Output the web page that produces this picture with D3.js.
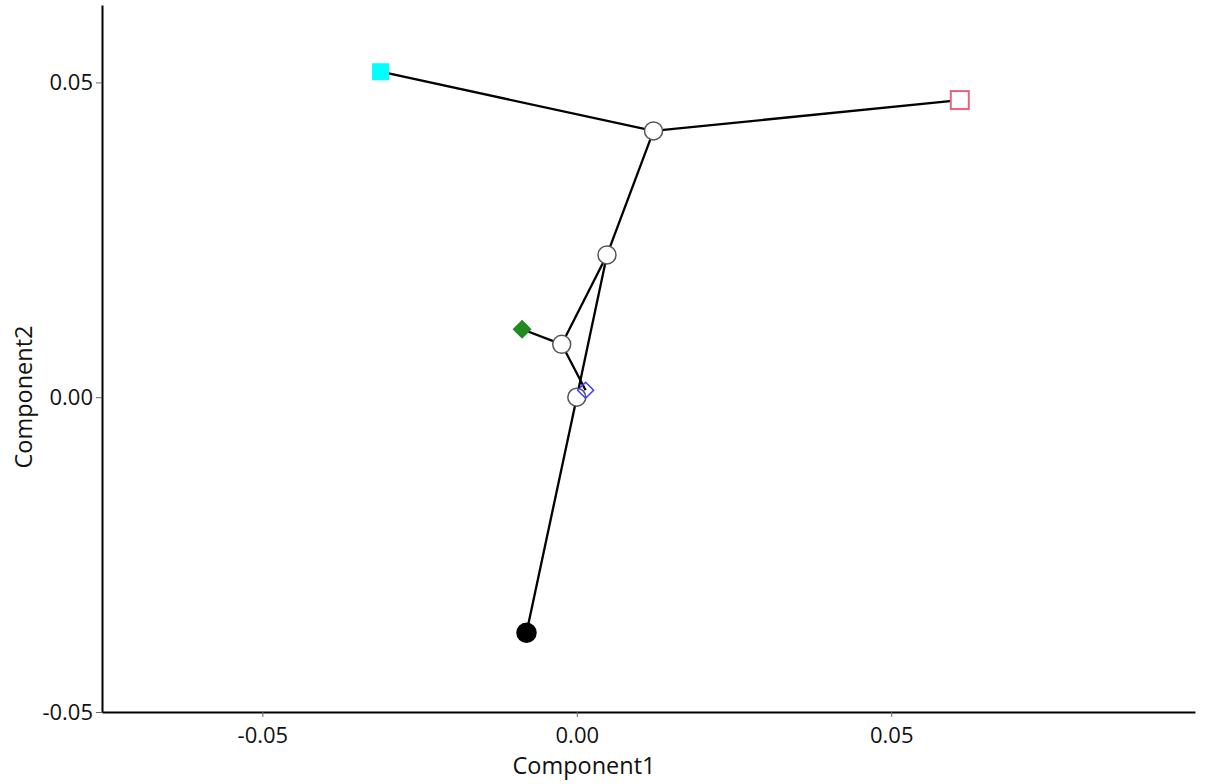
<!DOCTYPE html>
<html><head><meta charset="utf-8">
<script src="https://cdn.jsdelivr.net/npm/d3@7"></script>
<style>body{margin:0;background:#fff}svg{display:block}text{font-family:"Open Sans","Noto Sans",sans-serif}</style>
</head><body>
<script>
const xTicks = [-0.05, 0.00, 0.05];
const yTicks = [-0.05, 0.00, 0.05];
const nodeNames = ["cyan","pink","A","B","C","D","green","blue","black"];
const nodeX = [-0.0312, 0.0609, 0.0122, 0.0048, -0.0024, 0.0000, -0.0087, 0.0014, -0.0080];
const nodeY = [0.0517, 0.0472, 0.0423, 0.0226, 0.0084, 0.0000, 0.0108, 0.0011, -0.0374];
const edges = [["cyan","A"],["pink","A"],["A","B"],["B","C"],["B","D"],["C","green"],["C","blue"],["D","black"]];
const nodeShape = ["square","square","circle","circle","circle","circle","diamond","diamond","circle"];
const nodeFill = ["#00ffff","#ffffff","#ffffff","#ffffff","#ffffff","#ffffff","#228b22","none","#000000"];
const nodeStroke = ["#00ffff","#e8647e","#555555","#555555","#555555","#555555","#228b22","#3b3bff","#000000"];

const W=1206,H=784;
const svg=d3.select("body").append("svg").attr("width",W).attr("height",H);
const x=d3.scaleLinear().domain([-0.0755,0.0983]).range([102,1195]);
const y=d3.scaleLinear().domain([-0.05,0.0623]).range([712,5]);
const fmt=d=>d3.format(".2f")(d).replace("\u2212","-");

const gx=svg.append("g").attr("transform","translate(0,712)")
  .call(d3.axisBottom(x).tickValues(xTicks).tickFormat(fmt).tickSize(5).tickPadding(4).tickSizeOuter(0));
const gy=svg.append("g").attr("transform","translate(102,0)")
  .call(d3.axisLeft(y).tickValues(yTicks).tickFormat(fmt).tickSize(6).tickPadding(3).tickSizeOuter(0));
[gx,gy].forEach(g=>{
  g.select(".domain").attr("stroke","#000").attr("stroke-width",2);
  g.selectAll(".tick line").attr("stroke","#666");
  g.selectAll(".tick text").attr("font-size",22).attr("fill","#111").style("font-family",'"Open Sans","Noto Sans",sans-serif');
});
gx.selectAll(".tick text").attr("dy","1.0em");

svg.append("text").attr("x",584).attr("y",774).attr("text-anchor","middle").attr("font-size",23.5).attr("fill","#111").text("Component1");
svg.append("text").attr("transform","translate(32,397) rotate(-90)").attr("text-anchor","middle").attr("font-size",23.5).attr("fill","#111").text("Component2");

const idx=n=>nodeNames.indexOf(n);
svg.append("g").selectAll("line").data(edges).join("line")
  .attr("x1",e=>x(nodeX[idx(e[0])])).attr("y1",e=>y(nodeY[idx(e[0])]))
  .attr("x2",e=>x(nodeX[idx(e[1])])).attr("y2",e=>y(nodeY[idx(e[1])]))
  .attr("stroke","#000").attr("stroke-width",2.3);

const g=svg.append("g");
nodeNames.forEach((n,i)=>{
  const cx=x(nodeX[i]),cy=y(nodeY[i]);
  if(nodeShape[i]==="circle"){
    g.append("circle").attr("cx",cx).attr("cy",cy).attr("r",i===8?9.5:9)
      .attr("fill",nodeFill[i]).attr("stroke",nodeStroke[i]).attr("stroke-width",1.5);
  } else if(nodeShape[i]==="square"){
    const s = i===0?17:18;
    g.append("rect").attr("x",cx-s/2).attr("y",cy-s/2).attr("width",s).attr("height",s)
      .attr("fill",nodeFill[i]).attr("stroke",nodeStroke[i]).attr("stroke-width",i===0?0:2);
  } else {
    const r=i===6?8.5:8;
    g.append("path").attr("d",`M${cx},${cy-r}L${cx+r},${cy}L${cx},${cy+r}L${cx-r},${cy}Z`)
      .attr("fill",nodeFill[i]).attr("stroke",nodeStroke[i]).attr("stroke-width",1.5);
  }
});
</script>
</body></html>
